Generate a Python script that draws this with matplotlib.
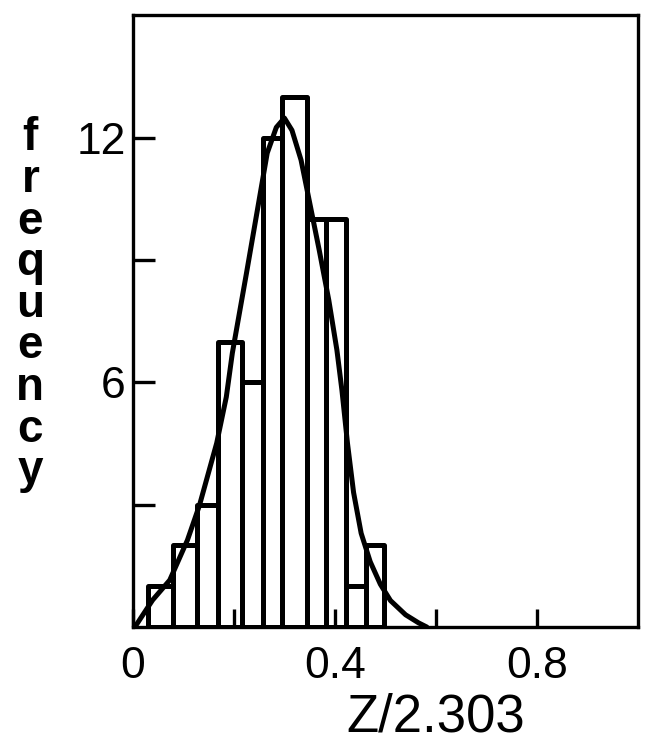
import numpy as np
import matplotlib
matplotlib.use("Agg")
import matplotlib.pyplot as plt

# histogram
bin_edges = [0.030, 0.079, 0.126, 0.168, 0.217, 0.257, 0.296, 0.345, 0.382, 0.422, 0.462, 0.497]
counts = [1, 2, 3, 7, 6, 12, 13, 10, 10, 1, 2]

# fitted curve, points
curve_x = [0.004, 0.039, 0.073, 0.108, 0.132, 0.166, 0.185, 0.197, 0.225, 0.250, 0.266,
           0.284, 0.300, 0.315, 0.333, 0.349, 0.369, 0.388, 0.404, 0.414, 0.425, 0.437,
           0.452, 0.470, 0.490, 0.510, 0.540, 0.566, 0.582]
curve_y = [0.0, 0.66, 1.15, 2.13, 2.99, 4.51, 5.64, 6.72, 8.68, 10.47, 11.62,
           12.25, 12.48, 12.18, 11.45, 10.47, 9.24, 8.01, 6.79, 5.8, 4.5, 3.3,
           2.3, 1.6, 1.05, 0.65, 0.3, 0.1, 0.0]

x_ticks = [0, 0.2, 0.4, 0.6, 0.8]
x_tick_labels = ["0", "", "0.4", "", "0.8"]
y_ticks = [3, 6, 9, 12]
y_tick_labels = ["", "6", "", "12"]

plt.rcParams["font.family"] = ["Liberation Sans", "DejaVu Sans"]

fig = plt.figure(figsize=(6.45, 7.47), dpi=100)
ax = fig.add_axes([0.206, 0.1606, 0.783, 0.819])

widths = np.diff(bin_edges)
ax.bar(bin_edges[:-1], counts, width=widths, align="edge", fill=False,
       edgecolor="black", linewidth=3.6, joinstyle="round")
ax.plot(curve_x, curve_y, color="black", linewidth=3.6, solid_capstyle="round",
        solid_joinstyle="round")

ax.set_xlim(0, 1.0)
ax.set_ylim(0, 15)
ax.set_xticks(x_ticks)
ax.set_xticklabels(x_tick_labels)
ax.set_yticks(y_ticks)
ax.set_yticklabels(y_tick_labels)
ax.tick_params(axis="x", direction="in", length=13, width=2.4, pad=14, labelsize=32)
ax.tick_params(axis="y", direction="in", length=16, width=2.4, pad=5, labelsize=32)

for s in ax.spines.values():
    s.set_linewidth(2.4)

ax.set_xlabel("Z/2.303", fontsize=38)
ax.xaxis.set_label_coords(0.6, -0.148)
ax.xaxis.label.set_va("center")

fig.text(0.047, 0.592, "\n".join("frequency"), fontsize=33, fontweight="bold",
         ha="center", va="center", linespacing=0.93)

fig.savefig("out.png", dpi=100)
